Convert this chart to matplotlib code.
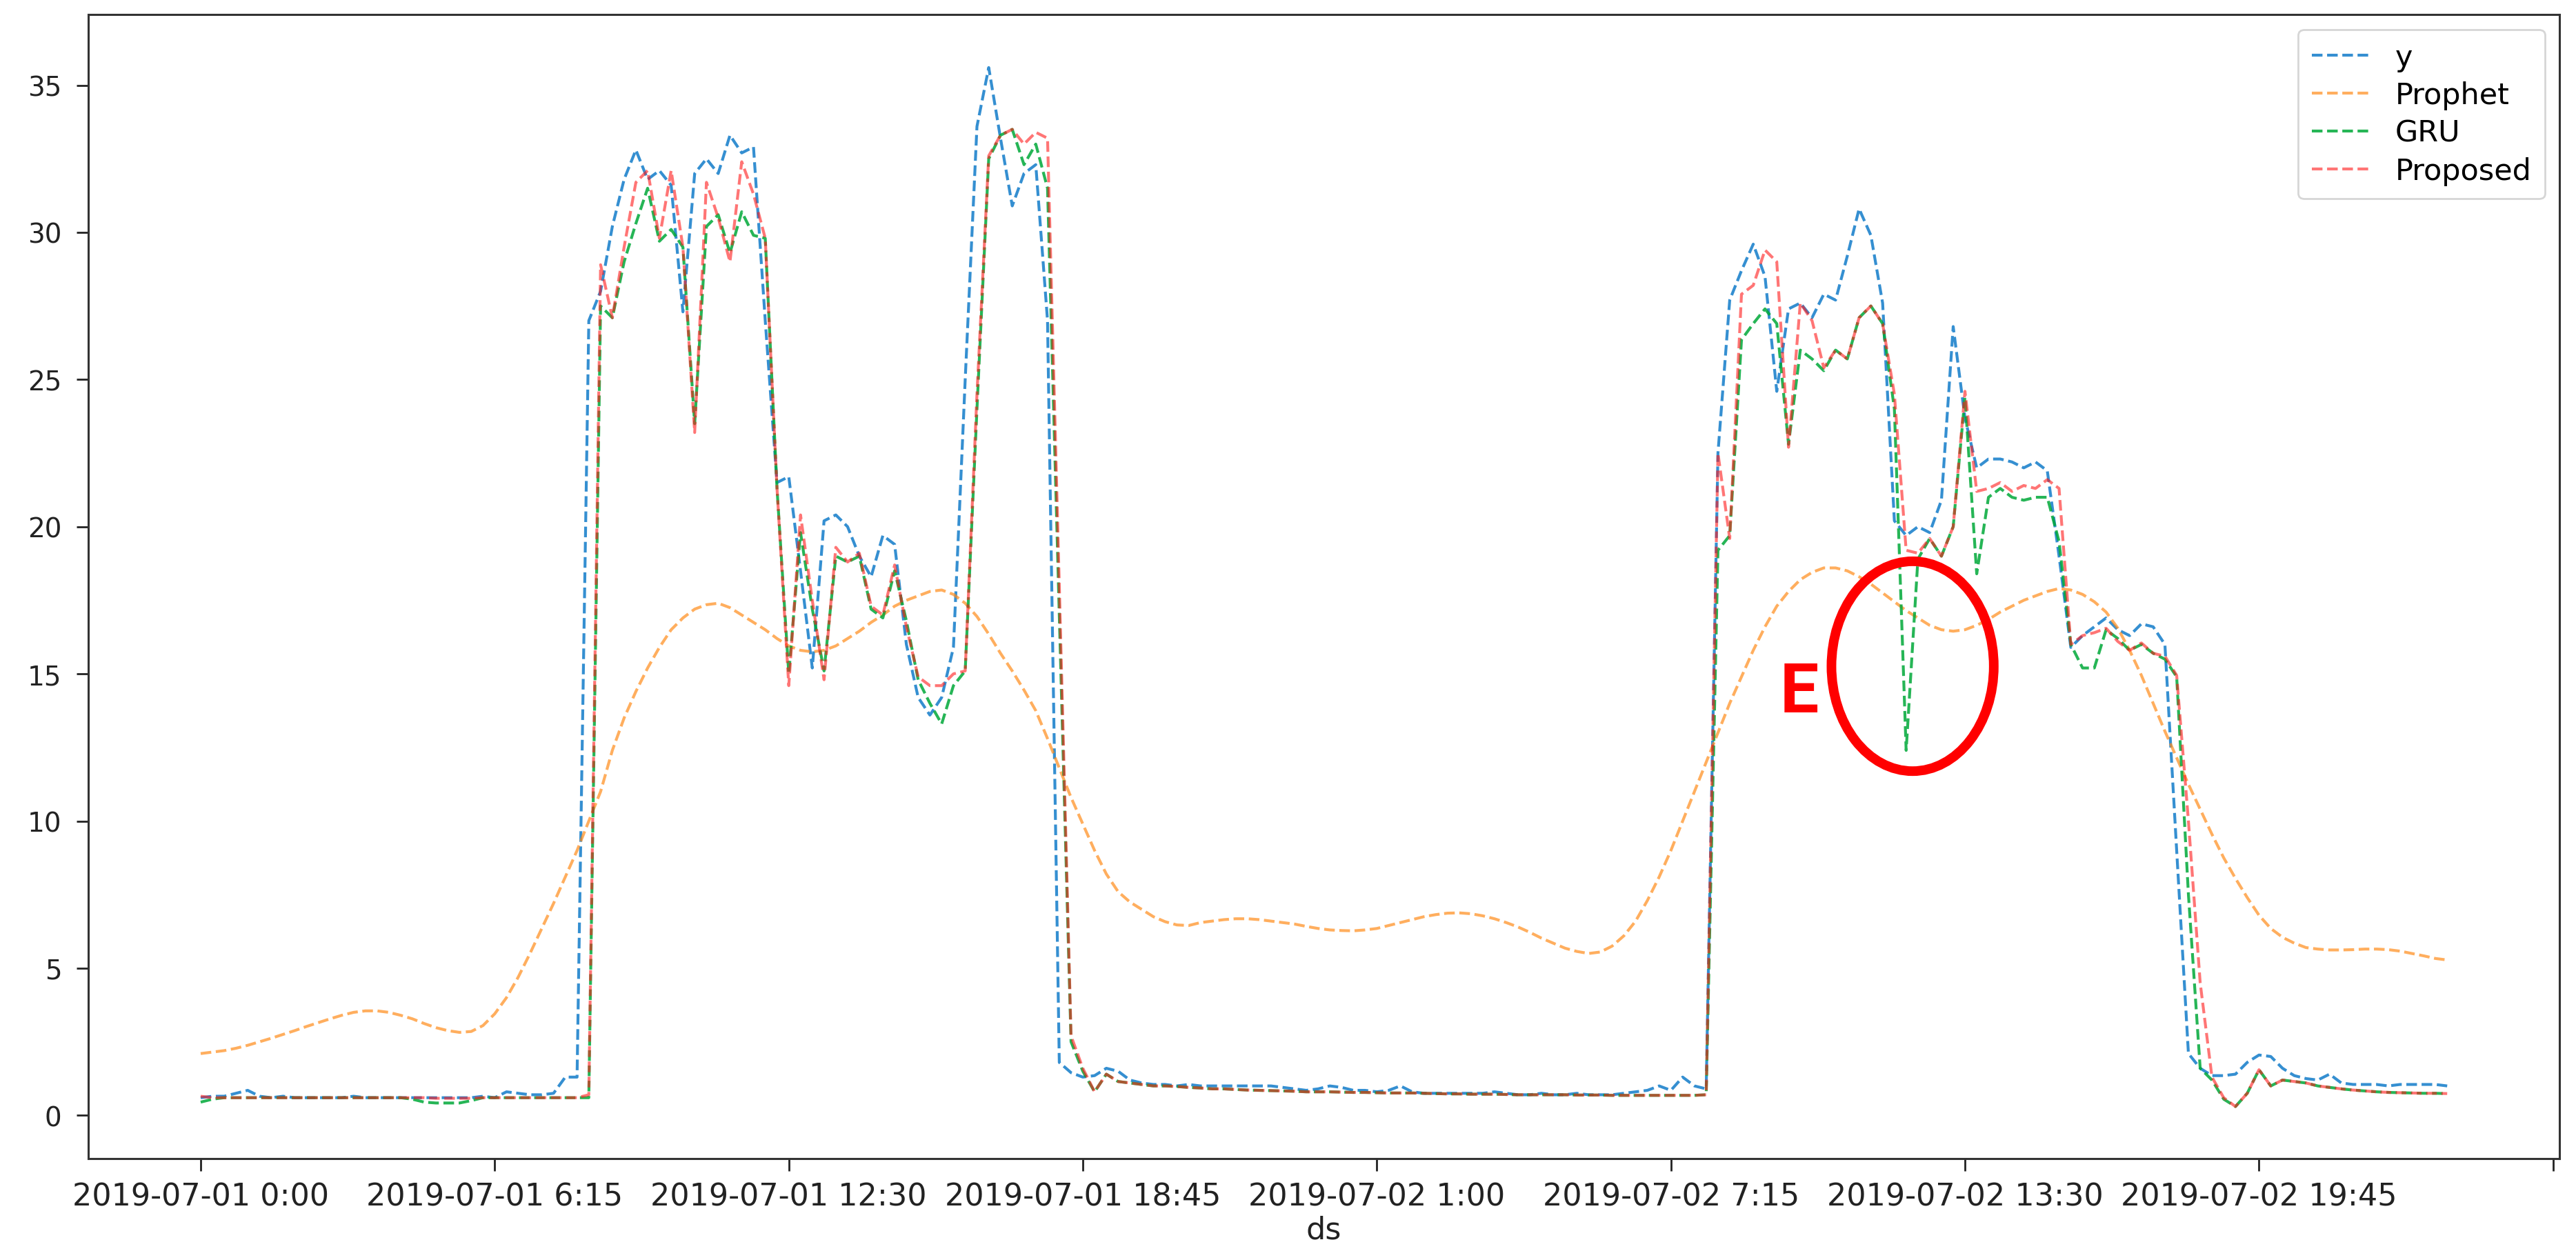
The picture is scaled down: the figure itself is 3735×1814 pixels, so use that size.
import matplotlib
matplotlib.use("Agg")
import matplotlib.pyplot as plt
from matplotlib.patches import Ellipse
import pandas as pd

# x categories: 15 minute steps over two days
ds = pd.date_range("2019-07-01 00:00", periods=192, freq="15min")
ds_labels = [f"{t:%Y-%m-%d} {t.hour}:{t:%M}" for t in ds]

y = [0.60, 0.65, 0.65, 0.75, 0.85, 0.65, 0.60, 0.65, 0.60, 0.60,
     0.60, 0.60, 0.60, 0.65, 0.60, 0.60, 0.60, 0.60, 0.60, 0.60,
     0.60, 0.60, 0.60, 0.60, 0.65, 0.60, 0.80, 0.75, 0.70, 0.70,
     0.75, 1.30, 1.30, 27.0, 28.0, 30.2, 31.8, 32.8, 31.8, 32.1,
     31.6, 27.3, 32.0, 32.5, 32.0, 33.3, 32.7, 32.9, 27.0, 21.5,
     21.7, 18.5, 15.2, 20.2, 20.4, 20.0, 19.0, 18.3, 19.7, 19.4,
     16.0, 14.2, 13.6, 14.2, 15.9, 25.0, 33.6, 35.6, 33.2, 30.9,
     32.0, 32.3, 27.0, 1.80, 1.45, 1.30, 1.35, 1.60, 1.50, 1.20,
     1.10, 1.05, 1.05, 1.00, 1.05, 1.00, 1.00, 1.00, 1.00, 1.00,
     1.00, 1.00, 0.95, 0.90, 0.85, 0.90, 1.00, 0.95, 0.85, 0.85,
     0.80, 0.85, 1.00, 0.80, 0.75, 0.75, 0.75, 0.75, 0.75, 0.75,
     0.80, 0.75, 0.70, 0.70, 0.75, 0.70, 0.70, 0.75, 0.70, 0.70,
     0.70, 0.75, 0.80, 0.85, 1.00, 0.85, 1.30, 1.00, 0.90, 22.5,
     27.7, 28.7, 29.6, 28.5, 24.6, 27.4, 27.6, 27.1, 27.9, 27.7,
     29.2, 30.8, 29.9, 27.6, 20.2, 19.7, 20.0, 19.8, 20.9, 26.8,
     23.7, 22.0, 22.3, 22.3, 22.2, 22.0, 22.2, 21.9, 19.0, 15.9,
     16.3, 16.6, 16.9, 16.5, 16.3, 16.7, 16.6, 16.0, 9.0, 2.10,
     1.60, 1.35, 1.35, 1.40, 1.80, 2.05, 2.00, 1.60, 1.35, 1.25,
     1.20, 1.40, 1.10, 1.05, 1.05, 1.05, 1.00, 1.05, 1.05, 1.05,
     1.05, 1.00]

prophet = [2.10, 2.15, 2.20, 2.28, 2.38, 2.50, 2.62, 2.75, 2.88, 3.02,
           3.15, 3.28, 3.40, 3.50, 3.55, 3.55, 3.50, 3.40, 3.28, 3.12,
           2.98, 2.88, 2.82, 2.85, 3.05, 3.45, 4.00, 4.70, 5.50, 6.35,
           7.20, 8.10, 9.00, 10.0, 11.0, 12.4, 13.5, 14.4, 15.2, 15.9,
           16.5, 16.9, 17.2, 17.35, 17.4, 17.25, 17.0, 16.75, 16.5, 16.2,
           15.95, 15.8, 15.75, 15.8, 15.95, 16.2, 16.45, 16.75, 17.0, 17.3,
           17.5, 17.65, 17.8, 17.85, 17.7, 17.4, 16.95, 16.35, 15.7, 15.1,
           14.45, 13.75, 12.8, 11.8, 10.8, 9.9, 9.0, 8.2, 7.6, 7.25,
           7.0, 6.75, 6.58, 6.47, 6.45, 6.55, 6.6, 6.65, 6.68, 6.68,
           6.65, 6.6, 6.55, 6.5, 6.42, 6.35, 6.3, 6.28, 6.27, 6.3,
           6.35, 6.45, 6.55, 6.65, 6.75, 6.82, 6.87, 6.88, 6.85, 6.78,
           6.68, 6.55, 6.4, 6.22, 6.02, 5.85, 5.68, 5.57, 5.5, 5.55,
           5.75, 6.1, 6.6, 7.3, 8.1, 9.0, 10.0, 11.0, 12.0, 13.0,
           14.0, 14.9, 15.8, 16.6, 17.3, 17.8, 18.2, 18.45, 18.6, 18.6,
           18.5, 18.3, 18.05, 17.75, 17.45, 17.15, 16.9, 16.65, 16.5, 16.45,
           16.5, 16.65, 16.85, 17.1, 17.3, 17.5, 17.65, 17.8, 17.9, 17.85,
           17.7, 17.45, 17.1, 16.55, 15.8, 14.95, 14.0, 13.05, 12.15, 11.25,
           10.4, 9.55, 8.75, 8.05, 7.4, 6.8, 6.35, 6.05, 5.85, 5.7,
           5.65, 5.62, 5.62, 5.63, 5.65, 5.65, 5.63, 5.58, 5.5, 5.42,
           5.33, 5.28]

gru = [0.45, 0.55, 0.60, 0.60, 0.60, 0.60, 0.60, 0.60, 0.60, 0.60,
       0.60, 0.60, 0.60, 0.60, 0.60, 0.60, 0.60, 0.60, 0.55, 0.45,
       0.42, 0.42, 0.42, 0.50, 0.60, 0.60, 0.60, 0.60, 0.60, 0.60,
       0.60, 0.60, 0.60, 0.60, 27.5, 27.1, 29.0, 30.3, 31.5, 29.7,
       30.1, 29.5, 23.5, 30.2, 30.6, 29.3, 30.7, 29.9, 29.8, 21.3,
       15.0, 19.8, 17.2, 15.1, 19.0, 18.8, 19.0, 17.2, 16.9, 18.5,
       16.8, 14.8, 14.0, 13.3, 14.6, 15.1, 24.0, 32.5, 33.3, 33.5,
       32.3, 33.0, 31.5, 17.0, 2.50, 1.50, 0.80, 1.40, 1.15, 1.10,
       1.05, 1.00, 1.00, 0.98, 0.95, 0.93, 0.90, 0.90, 0.88, 0.86,
       0.85, 0.84, 0.83, 0.82, 0.80, 0.80, 0.80, 0.79, 0.78, 0.78,
       0.77, 0.76, 0.76, 0.76, 0.75, 0.74, 0.73, 0.73, 0.72, 0.72,
       0.72, 0.71, 0.70, 0.70, 0.70, 0.70, 0.70, 0.69, 0.69, 0.69,
       0.68, 0.68, 0.68, 0.68, 0.68, 0.68, 0.68, 0.68, 0.70, 19.2,
       19.7, 26.35, 26.9, 27.4, 26.9, 22.8, 26.0, 25.7, 25.3, 26.0,
       25.7, 27.1, 27.5, 26.9, 24.0, 12.4, 18.9, 19.6, 19.0, 20.0,
       24.4, 18.4, 21.0, 21.3, 21.0, 20.9, 21.0, 21.0, 19.5, 16.0,
       15.2, 15.2, 16.5, 16.2, 15.8, 16.0, 15.7, 15.5, 14.9, 7.5,
       1.60, 1.20, 0.55, 0.30, 0.75, 1.55, 1.00, 1.20, 1.15, 1.10,
       1.00, 0.95, 0.90, 0.86, 0.83, 0.80, 0.78, 0.77, 0.76, 0.75,
       0.75, 0.74]

proposed = [0.65, 0.60, 0.60, 0.60, 0.60, 0.60, 0.60, 0.60, 0.60, 0.60,
            0.60, 0.60, 0.60, 0.60, 0.60, 0.60, 0.60, 0.60, 0.60, 0.60,
            0.58, 0.58, 0.58, 0.58, 0.60, 0.60, 0.60, 0.60, 0.60, 0.60,
            0.60, 0.60, 0.60, 0.70, 28.9, 27.1, 29.5, 31.7, 32.1, 29.8,
            32.1, 29.5, 23.2, 31.7, 30.5, 29.0, 32.4, 31.3, 29.8, 21.3,
            14.6, 20.4, 17.5, 14.8, 19.3, 18.8, 19.1, 17.3, 17.0, 18.7,
            16.6, 14.9, 14.6, 14.6, 15.0, 15.1, 24.5, 32.6, 33.3, 33.5,
            33.0, 33.4, 33.2, 18.0, 2.70, 1.60, 0.80, 1.40, 1.15, 1.10,
            1.05, 1.00, 1.00, 0.98, 0.95, 0.93, 0.90, 0.90, 0.88, 0.86,
            0.85, 0.84, 0.83, 0.82, 0.80, 0.80, 0.80, 0.79, 0.78, 0.78,
            0.77, 0.76, 0.76, 0.76, 0.75, 0.74, 0.73, 0.73, 0.72, 0.72,
            0.72, 0.71, 0.70, 0.70, 0.70, 0.70, 0.70, 0.69, 0.69, 0.69,
            0.68, 0.68, 0.68, 0.68, 0.68, 0.68, 0.68, 0.68, 0.70, 22.5,
            19.6, 27.9, 28.2, 29.4, 29.0, 22.7, 27.6, 27.0, 25.4, 26.0,
            25.7, 27.1, 27.5, 26.9, 24.5, 19.2, 19.1, 19.6, 19.0, 20.0,
            24.6, 21.2, 21.3, 21.5, 21.2, 21.4, 21.3, 21.6, 21.3, 16.0,
            16.3, 16.4, 16.55, 16.1, 15.8, 16.05, 15.7, 15.6, 14.95, 10.0,
            4.50, 1.30, 0.60, 0.30, 0.75, 1.55, 1.00, 1.20, 1.15, 1.10,
            1.00, 0.95, 0.90, 0.86, 0.83, 0.80, 0.78, 0.77, 0.76, 0.75,
            0.75, 0.74]

plt.rcParams['font.family'] = ['DejaVu Sans']

fig = plt.figure(figsize=(37.35, 18.15), dpi=100)
ax = fig.add_axes([0.0343, 0.0738, 0.9593, 0.914])

x = range(len(ds_labels))
lw = 3.0
ax.plot(x, y, '--', color='#1f83cc', alpha=0.9, lw=lw, label='y')
ax.plot(x, prophet, '--', color='#ff8c1a', alpha=0.7, lw=lw, label='Prophet')
ax.plot(x, gru, '--', color='#00a838', alpha=0.85, lw=lw, label='GRU')
ax.plot(x, proposed, '--', color='#ff1a1a', alpha=0.6, lw=lw, label='Proposed')

ax.set_xlim(-9.55, 200.55)
ax.set_ylim(-1.47, 37.4)

ticks = list(range(0, 201, 25))
ax.set_xticks(ticks)
ax.set_xticklabels([ds_labels[t] if t < len(ds_labels) else '' for t in ticks])
ax.set_yticks(range(0, 36, 5))
ax.tick_params(axis='x', labelsize=32, length=13, width=2, pad=11, colors='#222222')
ax.tick_params(axis='y', labelsize=28, length=12, width=2, pad=16, colors='#222222')
ax.set_xlabel('ds', fontsize=32, labelpad=4, color='#222222')

for s in ax.spines.values():
    s.set_linewidth(2.2)
    s.set_color('#333333')

leg = ax.legend(loc='upper right', fontsize=31, framealpha=0.8,
                borderaxespad=0.5, labelspacing=0.3, borderpad=0.45)
leg.get_frame().set_edgecolor('#cccccc')
leg.get_frame().set_linewidth(2)

# annotation of the GRU error
ax.add_patch(Ellipse((145.55, 15.26), width=13.8, height=7.13, fill=False,
                     edgecolor='red', lw=10, zorder=5))
ax.text(135.9, 14.35, 'E', color='red', fontsize=72, fontweight='bold',
        family=['Roboto', 'DejaVu Sans'], ha='center', va='center', zorder=5)

fig.savefig('out.png', dpi=100)
